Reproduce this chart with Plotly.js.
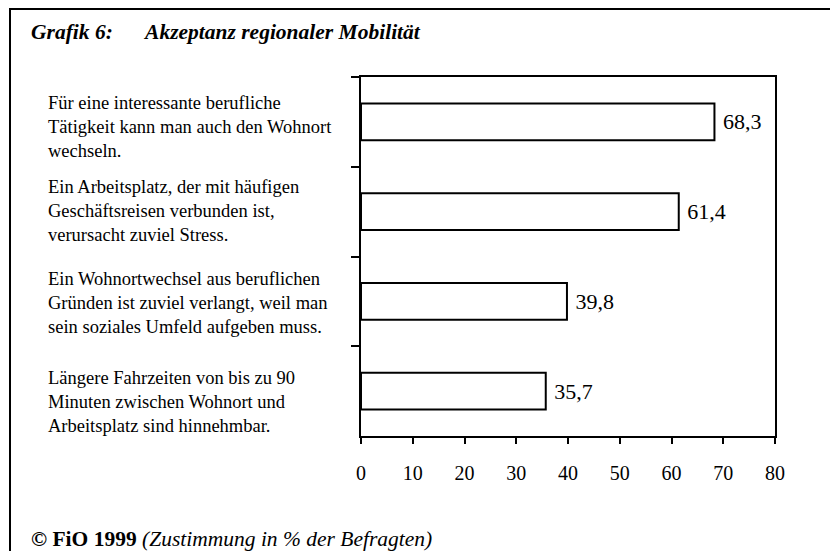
<!DOCTYPE html>
<html>
<head>
<meta charset="utf-8">
<script src="https://cdn.plot.ly/plotly-3.0.1.min.js"></script>
<style>html,body{margin:0;padding:0;background:#fff;}#chart{width:830px;height:551px;}</style>
</head>
<body>
<div id="chart"></div>
<script>
const categories = ['c1', 'c2', 'c3', 'c4'];
const statements = [
  'Für eine interessante berufliche<br>Tätigkeit kann man auch den Wohnort<br>wechseln.',
  'Ein Arbeitsplatz, der mit häufigen<br>Geschäftsreisen verbunden ist,<br>verursacht zuviel Stress.',
  'Ein Wohnortwechsel aus beruflichen<br>Gründen ist zuviel verlangt, weil man<br>sein soziales Umfeld aufgeben muss.',
  'Längere Fahrzeiten von bis zu 90<br>Minuten zwischen Wohnort und<br>Arbeitsplatz sind hinnehmbar.'
];
const values = [68.3, 61.4, 39.8, 35.7];
const xTicks = [0, 10, 20, 30, 40, 50, 60, 70, 80];

const FONT = 'Liberation Serif, Times New Roman, serif';
const L = 361, R = 775, T = 77, B = 436, W = 830, H = 551;
const px2x = p => (p - L) / (R - L);
const px2y = p => (B - p) / (B - T);

const labelShift = [5, -1, 2, 11];

const annotations = statements.map((s, i) => ({
  text: s, xref: 'paper', yref: 'y', x: px2x(46), y: categories[i],
  xanchor: 'left', yanchor: 'middle', align: 'left', showarrow: false,
  yshift: -labelShift[i],
  font: {family: FONT, size: 18.5, color: '#000'}
}));
annotations.push({
  text: '<b>© FiO 1999</b> <i>(Zustimmung in % der Befragten)</i>',
  xref: 'paper', yref: 'paper', x: px2x(29), y: px2y(539),
  xanchor: 'left', yanchor: 'middle', showarrow: false,
  font: {family: FONT, size: 21.5, color: '#000'}
});

const trace = {
  type: 'bar', orientation: 'h', y: categories, x: values,
  width: 0.41,
  marker: {color: '#fff', line: {color: '#000', width: 2}},
  text: values, texttemplate: '\u00a0%{x:.1f}', textposition: 'outside',
  textfont: {family: FONT, size: 22, color: '#000'},
  cliponaxis: false, hoverinfo: 'skip'
};

const layout = {
  width: W, height: H,
  margin: {l: L, r: W - R, t: T, b: H - B, pad: 0},
  paper_bgcolor: '#fff', plot_bgcolor: '#fff',
  separators: ',.',
  showlegend: false,
  font: {family: FONT, color: '#000'},
  title: {
    text: '<b><i>Grafik 6:\u00a0\u00a0\u00a0\u00a0\u00a0\u00a0Akzeptanz regionaler Mobilität</i></b>',
    xref: 'container', yref: 'container', x: 31 / W, y: 1 - 31 / H,
    xanchor: 'left', yanchor: 'middle',
    font: {family: FONT, size: 21.5, color: '#000'}
  },
  xaxis: {
    range: [0, 80], tickvals: xTicks, ticktext: xTicks.map(String),
    showgrid: false, zeroline: false,
    showline: true, linecolor: '#000', linewidth: 2, mirror: true,
    ticks: 'outside', ticklen: 6, tickwidth: 2, tickcolor: '#000',
    ticklabelstandoff: 12,
    tickfont: {family: FONT, size: 20, color: '#000'}, fixedrange: true
  },
  yaxis: {
    type: 'category', categoryarray: categories, autorange: 'reversed',
    showticklabels: false, tickson: 'boundaries',
    showgrid: false, zeroline: false,
    showline: true, linecolor: '#000', linewidth: 2, mirror: true,
    ticks: 'outside', ticklen: 8, tickwidth: 2, tickcolor: '#000', fixedrange: true
  },
  shapes: [{
    type: 'rect', xref: 'paper', yref: 'paper',
    x0: px2x(10), x1: px2x(850), y0: px2y(570), y1: px2y(9),
    line: {color: '#000', width: 2}, fillcolor: 'rgba(0,0,0,0)', layer: 'below'
  }],
  annotations: annotations,
  bargap: 0.59
};

Plotly.newPlot('chart', [trace], layout, {displayModeBar: false, staticPlot: true});
</script>
</body>
</html>
